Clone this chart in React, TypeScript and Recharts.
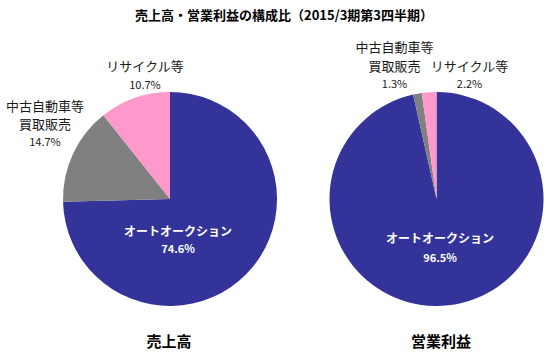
import React from "react";
import { PieChart, Pie, Cell } from "recharts";

const categories = ["オートオークション", "中古自動車等買取販売", "リサイクル等"];
const salesValues = [74.6, 14.7, 10.7];
const profitValues = [96.5, 1.3, 2.2];
const pctLabelsSales = ["74.6%", "14.7%", "10.7%"];
const pctLabelsProfit = ["96.5%", "1.3%", "2.2%"];
const nameLines = [["オートオークション"], ["中古自動車等", "買取販売"], ["リサイクル等"]];
const chartTitle = "売上高・営業利益の構成比（2015/3期第3四半期）";
const pieTitles = ["売上高", "営業利益"];

const colors = ["#333399", "#808080", "#FF99CC"];
const FONT = "'Noto Sans CJK JP', 'Noto Sans', sans-serif";

const salesData = categories.map((name, i) => ({ name, value: salesValues[i] }));
const profitData = categories.map((name, i) => ({ name, value: profitValues[i] }));

// label offsets (relative to pie center) per slice
const salesLayout = [
  { x: 8, ys: [31], py: 49 },
  { x: -125, ys: [-94, -76], py: -58 },
  { x: -25, ys: [-134], py: -115 },
];
const profitLayout = [
  { x: 3.5, ys: [38], py: 58 },
  { x: -42, ys: [-153, -134], py: -116 },
  { x: 33, ys: [-134], py: -116 },
];

function makeLabel(layout: any[], pcts: string[]) {
  return (props: any) => {
    const { cx, cy, index } = props;
    const l = layout[index];
    const inside = index === 0;
    const fill = inside ? "#ffffff" : "#1a1a1a";
    return (
      <g key={`lbl-${index}`}>
        {nameLines[index].map((t, k) => (
          <text
            key={k}
            x={cx + l.x}
            y={cy + l.ys[k]}
            textAnchor="middle"
            dominantBaseline="central"
            fill={fill}
            fontFamily={FONT}
            fontSize={inside ? 12 : 13}
            fontWeight={inside ? 700 : 400}
          >
            {t}
          </text>
        ))}
        <text
          x={cx + l.x}
          y={cy + l.py}
          textAnchor="middle"
          dominantBaseline="central"
          fill={fill}
          fontFamily={FONT}
          fontSize={11}
          fontWeight={inside ? 700 : 400}
        >
          {pcts[index]}
        </text>
      </g>
    );
  };
}

export default function App() {
  return (
    <div style={{ position: "absolute", left: 0, top: 0, width: 550, height: 352, background: "#fff" }}>
      <PieChart width={550} height={352} margin={{ top: 0, right: 0, bottom: 0, left: 0 }}>
        <Pie
          data={salesData}
          dataKey="value"
          cx={170}
          cy={199}
          outerRadius={107}
          startAngle={90}
          endAngle={-270}
          stroke="none"
          isAnimationActive={false}
          labelLine={false}
          label={makeLabel(salesLayout, pctLabelsSales)}
        >
          {salesData.map((d, i) => (
            <Cell key={d.name} fill={colors[i]} />
          ))}
        </Pie>
        <Pie
          data={profitData}
          dataKey="value"
          cx={436.5}
          cy={199}
          outerRadius={107}
          startAngle={90}
          endAngle={-270}
          stroke="none"
          isAnimationActive={false}
          labelLine={false}
          label={makeLabel(profitLayout, pctLabelsProfit)}
        >
          {profitData.map((d, i) => (
            <Cell key={d.name} fill={colors[i]} />
          ))}
        </Pie>
      </PieChart>
      <div
        style={{
          position: "absolute",
          left: 0,
          width: 568,
          top: 6,
          textAlign: "center",
          fontFamily: FONT,
          fontWeight: 700,
          fontSize: 13,
          lineHeight: "18px",
          color: "#000",
        }}
      >
        {chartTitle}
      </div>
      <div
        style={{
          position: "absolute",
          left: 109,
          width: 120,
          top: 331,
          textAlign: "center",
          fontFamily: FONT,
          fontWeight: 700,
          fontSize: 15,
          lineHeight: "20px",
          color: "#000",
        }}
      >
        {pieTitles[0]}
      </div>
      <div
        style={{
          position: "absolute",
          left: 381,
          width: 120,
          top: 331,
          textAlign: "center",
          fontFamily: FONT,
          fontWeight: 700,
          fontSize: 15,
          lineHeight: "20px",
          color: "#000",
        }}
      >
        {pieTitles[1]}
      </div>
    </div>
  );
}
